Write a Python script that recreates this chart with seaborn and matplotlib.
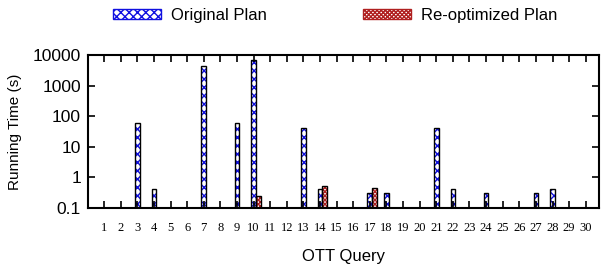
import matplotlib
matplotlib.use('Agg')
import matplotlib.pyplot as plt
import seaborn as sns
import pandas as pd
from matplotlib.patches import Patch
from matplotlib.ticker import LogLocator, NullFormatter

# values (running time in seconds, log scale)
queries = [str(q) for q in range(1, 31)]
plans = ['Original Plan', 'Re-optimized Plan']

orig_queries = [3, 4, 7, 9, 10, 13, 14, 17, 18, 21, 22, 24, 27, 28]
orig_times = [62, 0.42, 4400, 62, 6900, 41, 0.42, 0.32, 0.32, 41, 0.42, 0.32, 0.32, 0.42]

reopt_queries = [10, 14, 17]
reopt_times = [0.25, 0.52, 0.44]

y_ticks = [0.1, 1, 10, 100, 1000, 10000]
y_ticklabels = ['0.1', '1', '10', '100', '1000', '10000']

df = pd.DataFrame({
    'query': [str(q) for q in orig_queries + reopt_queries],
    'time': orig_times + reopt_times,
    'plan': [plans[0]] * len(orig_queries) + [plans[1]] * len(reopt_queries),
})

plt.rcParams['font.family'] = ['Liberation Sans', 'DejaVu Sans']
plt.rcParams['hatch.linewidth'] = 1.0

blue = '#1010e0'
red = '#b02020'
hatches = {plans[0]: 'xxxx', plans[1]: 'xxxxxxxx'}
hcolors = {plans[0]: blue, plans[1]: red}

fig = plt.figure(figsize=(6.02, 2.68), dpi=100)
ax = fig.add_axes([88 / 602, 1 - 208 / 268, (599 - 88) / 602, (208 - 55) / 268])

sns.barplot(data=df, x='query', y='time', hue='plan', order=queries,
            hue_order=plans, palette=hcolors, width=0.56, dodge=True,
            log_scale=True, legend=False, ax=ax)

# white bars with coloured hatch and a black outline; the gnuplot-style
# cluster starts at the tick, so nudge every bar right by half its width
bars = list(ax.patches)
for p in bars:
    fc = p.get_facecolor()
    plan = plans[0] if fc[2] > fc[0] else plans[1]
    p.set_x(p.get_x() + p.get_width() / 2)
    p.set_facecolor('white')
    p.set_edgecolor(hcolors[plan])
    p.set_hatch(hatches[plan])
    p.set_linewidth(0)
    ax.bar(p.get_x(), p.get_height(), width=p.get_width(), bottom=p.get_y(),
           align='edge', fill=False, edgecolor='black', linewidth=1.0)

ax.set_yscale('log')
ax.set_ylim(0.1, 10000)
ax.set_xlim(-0.97, 29.8)
ax.set_yticks(y_ticks)
ax.set_yticklabels(y_ticklabels)
ax.yaxis.set_minor_locator(LogLocator(base=10, subs=(2, 5)))
ax.yaxis.set_minor_formatter(NullFormatter())

for s in ax.spines.values():
    s.set_linewidth(1.5)
ax.tick_params(axis='y', which='major', direction='in', length=5, width=1.2,
               left=True, right=True, labelsize=12.5, pad=5)
ax.tick_params(axis='y', which='minor', direction='in', length=3, width=1.0,
               left=True, right=True)
ax.tick_params(axis='x', which='major', direction='in', length=5, width=1.2,
               top=True, bottom=True, labelsize=9, pad=10)
for lbl in ax.get_xticklabels():
    lbl.set_family(['Liberation Serif', 'DejaVu Serif'])

ax.set_xlabel('OTT Query', fontsize=12)
ax.set_ylabel('Running Time (s)', fontsize=11)
ax.xaxis.set_label_coords(0.5, (208 - 249) / 153)
ax.yaxis.set_label_coords((22 - 88) / 511, 0.5)

handles = [Patch(facecolor='white', edgecolor=hcolors[p], hatch=hatches[p], linewidth=1)
           for p in plans]
fig.legend(handles, plans, loc='center', bbox_to_anchor=(335.5 / 602, 1 - 15 / 268),
           ncol=2, frameon=False, fontsize=12, handlelength=2.9, handleheight=0.55,
           columnspacing=5.75, handletextpad=0.6)

fig.savefig('out.png', dpi=100)
